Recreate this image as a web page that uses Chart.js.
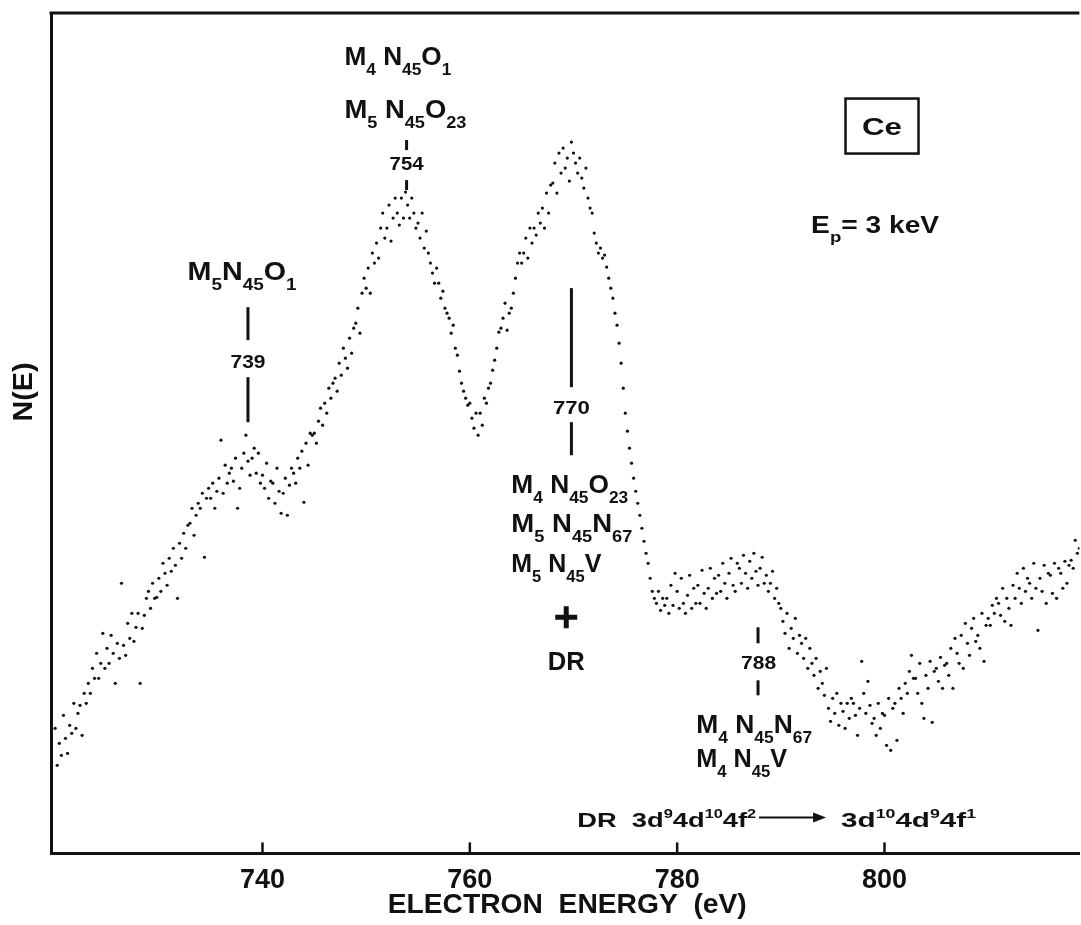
<!DOCTYPE html>
<html>
<head>
<meta charset="utf-8">
<script src="https://cdn.jsdelivr.net/npm/chart.js@4.4.1/dist/chart.umd.min.js"></script>
<style>
  html, body { margin: 0; padding: 0; background: #fff; }
  canvas { display: block; }
</style>
</head>
<body>
<canvas id="augerCe" width="1081" height="925"></canvas>
<script>
// Ce M45 Auger spectrum, N(E) in arbitrary units, one value every 0.2 eV
var E_STEP = 0.2;
var segStart = [720, 730, 740, 750, 760, 770, 780, 790, 800, 810];

var nE720 = [125, 88, 110, 98, 138, 115, 100, 128, 120, 150, 125, 140, 148, 118, 160, 150, 170, 160, 185, 175,
  200, 175, 190, 220, 185, 205, 190, 218, 200, 170, 210, 195, 270, 208, 198, 230, 215, 240, 212, 226,
  240, 170, 225, 238, 255, 262, 245, 270, 255, 256];
var nE730 = [275, 262, 290, 280, 268, 295, 282, 305, 288, 255, 310, 295, 320, 305, 328, 330, 345, 318, 338, 350,
  345, 360, 296, 355, 365, 355, 370, 345, 362, 375, 413, 360, 388, 370, 380, 385, 372, 395, 345, 365,
  385, 400, 418, 392, 378, 395, 405, 380, 400, 370];
var nE740 = [378, 365, 390, 355, 372, 370, 350, 385, 362, 340, 360, 375, 338, 368, 385, 380, 370, 395, 385, 402,
  351, 410, 388, 420, 418, 420, 410, 432, 445, 428, 450, 440, 465, 455, 470, 475, 462, 490, 478, 505,
  495, 485, 515, 500, 525, 530, 545, 520, 560, 575];
var nE750 = [565, 585, 560, 600, 590, 610, 595, 625, 640, 615, 625, 648, 612, 635, 655, 640, 628, 655, 635, 661,
  648, 635, 655, 640, 625, 630, 615, 640, 605, 622, 600, 590, 580, 570, 585, 570, 555, 562, 545, 540,
  535, 520, 528, 505, 498, 482, 470, 462, 455, 448];
var nE760 = [450, 435, 425, 440, 418, 440, 428, 455, 450, 465, 470, 483, 493, 505, 521, 525, 535, 550, 523, 540,
  545, 560, 575, 590, 600, 590, 600, 615, 595, 625, 610, 625, 618, 640, 630, 645, 625, 660, 640, 668,
  670, 690, 660, 700, 680, 705, 685, 695, 672, 711];
var nE770 = [700, 690, 680, 695, 675, 665, 685, 655, 645, 640, 620, 610, 600, 605, 595, 598, 586, 575, 565, 555,
  540, 528, 510, 490, 465, 440, 422, 405, 390, 375, 362, 350, 338, 325, 312, 300, 290, 275, 262, 255,
  250, 262, 243, 255, 248, 255, 240, 268, 248, 280];
var nE780 = [262, 245, 275, 250, 240, 258, 278, 245, 265, 250, 268, 250, 283, 260, 245, 265, 285, 255, 275, 260,
  278, 262, 290, 270, 255, 280, 295, 268, 262, 290, 285, 270, 298, 280, 265, 292, 275, 300, 282, 268,
  285, 296, 270, 278, 262, 270, 282, 255, 265, 250];
var nE790 = [245, 232, 220, 240, 205, 225, 215, 235, 200, 218, 210, 195, 215, 185, 205, 190, 178, 195, 165, 182,
  170, 158, 185, 145, 132, 155, 140, 160, 128, 150, 142, 125, 150, 135, 155, 150, 138, 118, 145, 192,
  160, 140, 172, 148, 130, 135, 118, 150, 125, 140];
var nE800 = [138, 108, 155, 103, 145, 150, 113, 165, 155, 140, 170, 160, 182, 198, 175, 175, 160, 190, 150, 135,
  178, 165, 192, 131, 182, 185, 172, 196, 165, 188, 190, 178, 205, 165, 215, 200, 190, 218, 185, 230,
  210, 198, 225, 235, 212, 218, 205, 240, 192, 228];
var nE810 = [235, 228, 248, 240, 255, 250, 238, 265, 232, 255, 245, 228, 268, 255, 280, 265, 250, 285, 262, 275,
  270, 255, 290, 265, 223, 275, 262, 288, 250, 280, 278, 260, 290, 255, 285, 280, 265, 292, 270, 288,
  293, 285, 313, 300, 305];

var segments = [nE720, nE730, nE740, nE750, nE760, nE770, nE780, nE790, nE800, nE810];
var xTicks = [740, 760, 780, 800];

var points = [];
segments.forEach(function (seg, k) {
  seg.forEach(function (v, j) {
    points.push({ x: Math.round((segStart[k] + j * E_STEP) * 10) / 10, y: v });
  });
});

var FONT = '"Liberation Sans", Arial, Helvetica, sans-serif';

// text with _{sub} and ^{sup} parts
function parseRich(str) {
  var out = [], buf = '', i = 0;
  while (i < str.length) {
    var c = str[i];
    if ((c === '_' || c === '^') && str[i + 1] === '{') {
      if (buf) { out.push({ t: buf, mode: 0 }); buf = ''; }
      var end = str.indexOf('}', i);
      out.push({ t: str.slice(i + 2, end), mode: c === '_' ? 1 : -1 });
      i = end + 1;
    } else { buf += c; i++; }
  }
  if (buf) out.push({ t: buf, mode: 0 });
  return out;
}

function drawRich(ctx, str, x, y, size, width, align) {
  var runs = parseRich(str);
  var fontFor = function (m) {
    var s = m === 1 ? size * 0.66 : (m === -1 ? size * 0.6 : size);
    return 'bold ' + s.toFixed(1) + 'px ' + FONT;
  };
  var w = 0;
  runs.forEach(function (r) { ctx.font = fontFor(r.mode); r.w = ctx.measureText(r.t).width; w += r.w; });
  var sx = width ? width / w : 1;
  ctx.save();
  ctx.translate(align === 'center' ? x - w * sx / 2 : x, y);
  ctx.scale(sx, 1);
  ctx.textAlign = 'left';
  ctx.textBaseline = 'alphabetic';
  var cx = 0;
  runs.forEach(function (r) {
    ctx.font = fontFor(r.mode);
    var dy = r.mode === 1 ? size * 0.38 : (r.mode === -1 ? -size * 0.47 : 0);
    ctx.fillText(r.t, cx, dy);
    cx += r.w;
  });
  ctx.restore();
}

// annotation texts: e = energy (eV), n = N(E) units of the baseline
var texts = [
  { s: 'M_{5}N_{45}O_{1}', e: 732.77, n: 573, size: 26, w: 109 },
  { s: 'M_{4} N_{45}O_{1}', e: 747.9, n: 788, size: 26, w: 107 },
  { s: 'M_{5} N_{45}O_{23}', e: 747.9, n: 735, size: 26, w: 122 },
  { s: '739', e: 738.6, n: 485, size: 19, w: 35, align: 'center' },
  { s: '754', e: 753.9, n: 683, size: 19, w: 34, align: 'center' },
  { s: '770', e: 769.8, n: 439, size: 19, w: 37, align: 'center' },
  { s: '788', e: 787.85, n: 184, size: 19, w: 35, align: 'center' },
  { s: 'M_{4} N_{45}O_{23}', e: 764.0, n: 360, size: 26, w: 117 },
  { s: 'M_{5} N_{45}N_{67}', e: 764.0, n: 321, size: 26, w: 121 },
  { s: 'M_{5} N_{45}V', e: 764.0, n: 281, size: 26, w: 90 },
  { s: 'DR', e: 769.3, n: 183, size: 26, w: 37, align: 'center' },
  { s: 'M_{4} N_{45}N_{67}', e: 781.83, n: 120, size: 26, w: 116 },
  { s: 'M_{4} N_{45}V', e: 781.83, n: 86, size: 26, w: 91 },
  { s: 'E_{p}= 3 keV', e: 792.92, n: 620, size: 23, w: 128 },
  { s: 'DR  3d^{9}4d^{10}4f^{2}', e: 770.36, n: 26, size: 21, w: 179 },
  { s: '3d^{10}4d^{9}4f^{1}', e: 795.81, n: 26, size: 21, w: 135 }
];

// vertical marker bars [energy, nTop, nBottom]
var bars = [
  [738.6, 546, 513], [738.6, 476, 431],
  [753.9, 713, 703], [753.9, 673, 663],
  [769.8, 565, 466], [769.8, 431, 398],
  [787.8, 226, 210], [787.8, 173, 158]
];

var annotate = {
  id: 'annotate',
  afterDatasetsDraw: function (chart) {
    var ctx = chart.ctx, a = chart.chartArea;
    var xs = chart.scales.x, ys = chart.scales.y;
    var px = function (e) { return xs.getPixelForValue(e); };
    var py = function (n) { return ys.getPixelForValue(n); };
    ctx.save();
    ctx.strokeStyle = '#111';
    ctx.fillStyle = '#111';

    // top frame line
    ctx.lineWidth = 3;
    ctx.beginPath();
    ctx.moveTo(a.left - 1.5, a.top);
    ctx.lineTo(a.right, a.top);
    ctx.stroke();

    // inward tick marks
    ctx.lineWidth = 2.5;
    xs.ticks.forEach(function (t) {
      var x = px(t.value);
      ctx.beginPath();
      ctx.moveTo(x, a.bottom);
      ctx.lineTo(x, a.bottom - 11);
      ctx.stroke();
    });

    // marker bars
    ctx.lineWidth = 3;
    bars.forEach(function (b) {
      ctx.beginPath();
      ctx.moveTo(px(b[0]), py(b[1]));
      ctx.lineTo(px(b[0]), py(b[2]));
      ctx.stroke();
    });

    texts.forEach(function (t) {
      drawRich(ctx, t.s, px(t.e), py(t.n), t.size, t.w, t.align);
    });

    // plus sign
    var cx = px(769.3), cy = py(236);
    ctx.lineWidth = 5;
    ctx.beginPath();
    ctx.moveTo(cx - 11, cy); ctx.lineTo(cx + 11, cy);
    ctx.moveTo(cx, cy - 11); ctx.lineTo(cx, cy + 11);
    ctx.stroke();

    // DR arrow
    var ax0 = px(787.9), ax1 = px(794.36), ay = py(36);
    ctx.lineWidth = 2;
    ctx.beginPath();
    ctx.moveTo(ax0, ay); ctx.lineTo(ax1 - 8, ay);
    ctx.stroke();
    ctx.beginPath();
    ctx.moveTo(ax1, ay); ctx.lineTo(ax1 - 13, ay - 5); ctx.lineTo(ax1 - 13, ay + 5);
    ctx.closePath();
    ctx.fill();

    // Ce box
    var bx = px(799.76), by = py(727);
    ctx.lineWidth = 2.5;
    ctx.strokeRect(bx - 36.5, by - 27.5, 73, 55);
    drawRich(ctx, 'Ce', bx, by + 8.6, 24, 40, 'center');

    // axis titles
    drawRich(ctx, 'ELECTRON  ENERGY  (eV)', (a.left + a.right) / 2 + 2, a.bottom + 60, 28, 359, 'center');
    ctx.save();
    ctx.translate(22, 392);
    ctx.rotate(-Math.PI / 2);
    drawRich(ctx, 'N(E)', 0, 10, 28, 59, 'center');
    ctx.restore();

    ctx.restore();
  }
};

new Chart(document.getElementById('augerCe'), {
  type: 'scatter',
  data: {
    datasets: [{
      data: points,
      pointRadius: 1.6,
      pointBackgroundColor: '#111',
      pointBorderWidth: 0,
      pointHoverRadius: 1.6
    }]
  },
  options: {
    responsive: false,
    animation: false,
    devicePixelRatio: 1,
    layout: { padding: { left: 51, top: 13, right: 0, bottom: 18 } },
    plugins: { legend: { display: false }, tooltip: { enabled: false } },
    scales: {
      x: {
        type: 'linear',
        min: 719.6,
        max: 818.8,
        grid: { display: false, drawTicks: false },
        border: { display: true, width: 3, color: '#111' },
        afterBuildTicks: function (scale) {
          scale.ticks = xTicks.map(function (v) { return { value: v }; });
        },
        ticks: {
          color: '#111',
          padding: 16,
          maxRotation: 0,
          autoSkip: false,
          font: { family: FONT, weight: 'bold', size: 27, lineHeight: 0.8 }
        }
      },
      y: {
        min: 0,
        max: 840,
        grid: { display: false, drawTicks: false },
        border: { display: true, width: 3, color: '#111' },
        ticks: { display: false }
      }
    }
  },
  plugins: [annotate]
});
</script>
</body>
</html>
